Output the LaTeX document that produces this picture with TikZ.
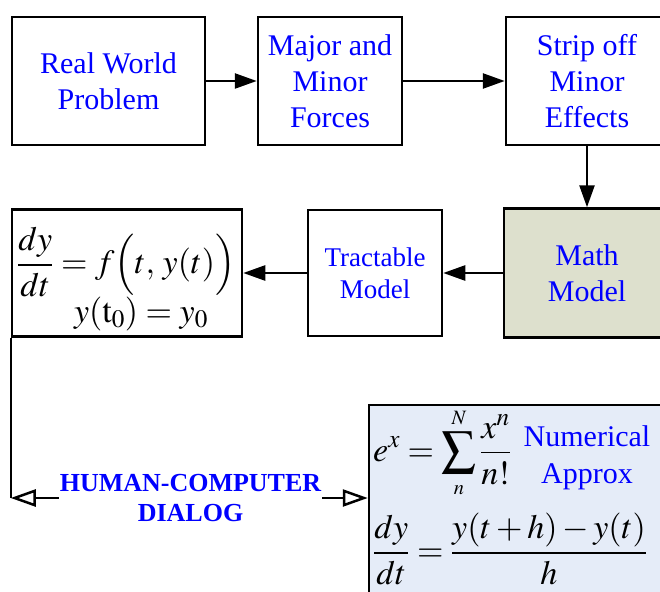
\documentclass[tikz,border=0pt]{standalone}
\usepackage{mathptmx}
\usepackage{fontspec}
\setmainfont{Liberation Serif}
\newfontfamily\tnr{Liberation Serif}
\usetikzlibrary{arrows.meta}
\definecolor{txtblue}{RGB}{0,0,255}
\definecolor{mathfill}{RGB}{221,224,205}
\definecolor{numfill}{RGB}{229,236,248}
\begin{document}
\begin{tikzpicture}[x=1pt,y=-1pt,
  box/.style={draw=black, line width=2.5pt, align=center, text=txtblue,
    font=\tnr\fontsize{30}{36}\selectfont, inner sep=0pt},
  flow/.style={line width=2.5pt, -{Triangle[length=22pt,width=15pt]}},
  dialog/.style={line width=2.5pt, -{Triangle[open,length=25pt,width=17pt,fill=white]}},
  eqtext/.style={inner sep=0pt, font=\fontsize{34}{40}\selectfont},
]
\useasboundingbox (0,0) rectangle (660,591);
\clip (0,0) rectangle (660,591);
% top row
\node[box, minimum width=193pt, minimum height=128pt] (rwp) at (108.5,81) {Real World\\Problem};
\node[box, minimum width=144pt, minimum height=128pt] (maj) at (330,81) {Major and\\Minor\\Forces};
\node[box, minimum width=162pt, minimum height=128pt] (strip) at (587,81) {Strip off\\Minor\\Effects};
% middle row
\node[box, fill=mathfill, minimum width=166pt, minimum height=129pt] (math) at (587,273) {Math\\Model};
\node[box, minimum width=134pt, minimum height=126pt, font=\tnr\fontsize{27}{32}\selectfont] (tract) at (375,273) {Tractable\\Model};
\node[box, minimum width=230pt, minimum height=127pt] (eq) at (127,273) {};
\node[eqtext, anchor=west] (eq1) at (17,262) {$\displaystyle \frac{dy}{dt} = f\Bigl(t,\, y(t)\Bigr)$};
\node[eqtext, anchor=base] (eq2) at (141,322) {$y(\mathrm{t}_0) = y_0$};
% bottom
\node[box, fill=numfill, minimum width=302pt, minimum height=190pt] (num) at (520,500) {};
\node[eqtext, anchor=west] (num1) at (373,453) {$\displaystyle e^x = \sum_{\scriptscriptstyle n}^{\scriptscriptstyle N} \frac{x^n}{n!}$};
\node[inner sep=0pt, align=center, text=txtblue, font=\tnr\fontsize{30}{37}\selectfont] (numtxt) at (587,458) {Numerical\\Approx};
\node[eqtext, anchor=west] (num2) at (373,549) {$\displaystyle \frac{dy}{dt} = \frac{y(t+h)-y(t)}{h}$};
\node[inner sep=1pt, align=center, text=txtblue, font=\tnr\bfseries\fontsize{26}{30}\selectfont] (hcd) at (190.5,498) {HUMAN-COMPUTER\\DIALOG};
% connectors
\draw[flow] (rwp) -- (maj);
\draw[flow] (maj) -- (strip);
\draw[flow] (strip) -- (math);
\draw[flow] (math) -- (tract);
\draw[flow] (tract) -- (eq);
\coordinate (corner) at (eq.south west |- hcd.west);
\draw[line width=2.5pt] (eq.south west) -- (corner);
\draw[dialog] (hcd.west) -- (corner);
\draw[dialog] (hcd.east) -- (num.west |- hcd.east);
\end{tikzpicture}
\end{document}
